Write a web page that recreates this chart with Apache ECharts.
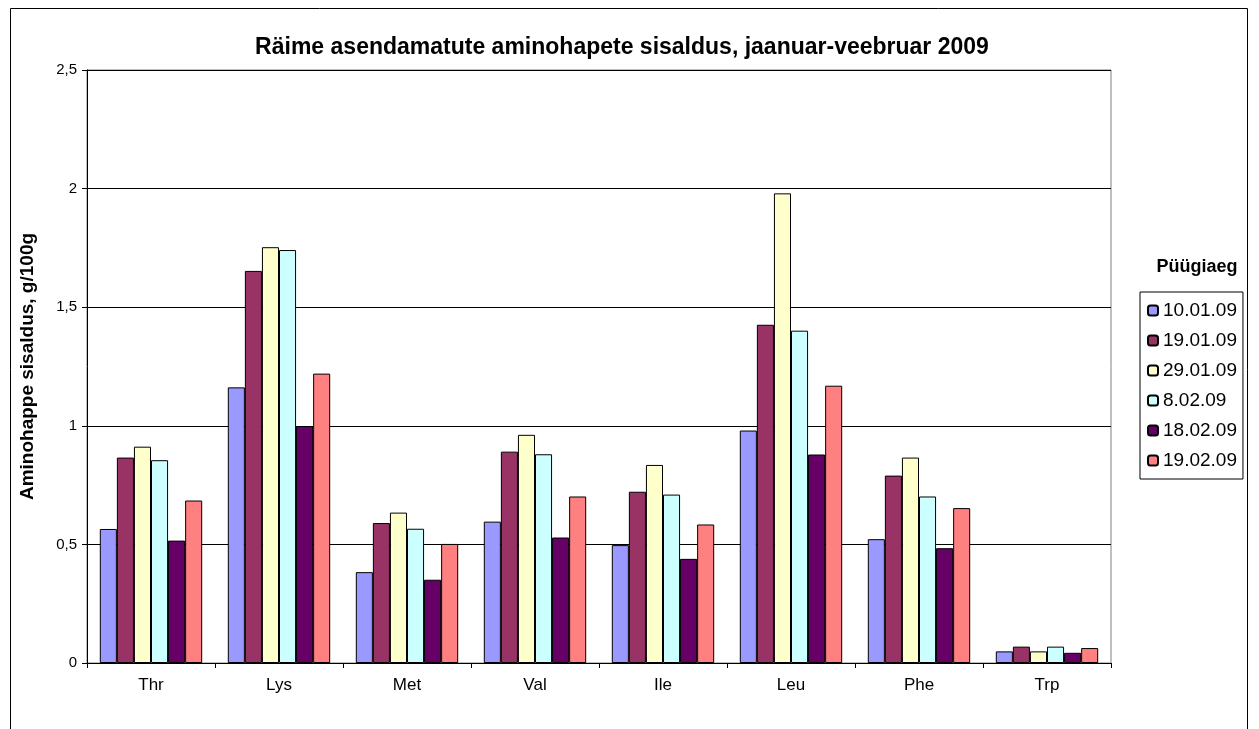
<!DOCTYPE html>
<html>
<head>
<meta charset="utf-8">
<script src="https://cdn.jsdelivr.net/npm/echarts@6/dist/echarts.min.js"></script>
<style>
  html, body { margin: 0; padding: 0; background: #fff; }
  #chart { width: 1259px; height: 729px; }
</style>
</head>
<body>
<div id="chart"></div>
<script>
var categories = ['Thr', 'Lys', 'Met', 'Val', 'Ile', 'Leu', 'Phe', 'Trp'];
var seriesNames = ['10.01.09', '19.01.09', '29.01.09', '8.02.09', '18.02.09', '19.02.09'];
var d100109 = [0.565, 1.162, 0.383, 0.596, 0.497, 0.980, 0.522, 0.049];
var d190109 = [0.866, 1.653, 0.590, 0.891, 0.722, 1.426, 0.790, 0.069];
var d290109 = [0.912, 1.753, 0.634, 0.962, 0.835, 1.980, 0.866, 0.049];
var d080209 = [0.855, 1.741, 0.566, 0.880, 0.710, 1.401, 0.702, 0.069];
var d180209 = [0.516, 0.999, 0.351, 0.529, 0.439, 0.879, 0.484, 0.043];
var d190209 = [0.685, 1.220, 0.502, 0.702, 0.584, 1.169, 0.653, 0.063];
var seriesData = [d100109, d190109, d290109, d080209, d180209, d190209];
var colors = ['#9999FF', '#993366', '#FFFFCC', '#CCFFFF', '#660066', '#FF8080'];

var chart = echarts.init(document.getElementById('chart'));

var option = {
	backgroundColor: '#fff',
	animation: false,
	title: [{
		text: 'Räime asendamatute aminohapete sisaldus, jaanuar-veebruar 2009',
		left: 617,
		top: 31,
		textAlign: 'center',
		textStyle: { fontFamily: 'Liberation Sans, Arial', fontSize: 23, fontWeight: 'bold', color: '#000' }
	}, {
		text: 'Püügiaeg',
		left: 1192,
		top: 253,
		textAlign: 'center',
		textStyle: { fontFamily: 'Liberation Sans, Arial', fontSize: 18, fontWeight: 'bold', color: '#000' }
	}],
	graphic: [{
		type: 'rect',
		shape: { x: 10.5, y: 8.5, width: 1237, height: 740 },
		style: { fill: 'none', stroke: '#000', lineWidth: 1 },
		silent: true
	}],
	legend: {
		orient: 'vertical',
		left: 1140,
		top: 292,
		padding: [9, 6, 9, 7],
		itemGap: 11,
		itemWidth: 10,
		itemHeight: 10,
		borderColor: '#000',
		borderWidth: 1,
		data: seriesNames,
		textStyle: { fontFamily: 'Liberation Sans, Arial', fontSize: 19, color: '#000' }
	},
	grid: {
		left: 87,
		right: 148,
		top: 70,
		bottom: 66,
		show: true,
		borderColor: '#808080',
		borderWidth: 1
	},
	xAxis: {
		type: 'category',
		data: categories,
		axisLine: { lineStyle: { color: '#000' } },
		axisTick: { show: true, length: 5, lineStyle: { color: '#000' } },
		axisLabel: { fontFamily: 'Liberation Sans, Arial', fontSize: 17, color: '#000', margin: 14 }
	},
	yAxis: {
		type: 'value',
		min: 0,
		max: 2.5,
		interval: 0.5,
		name: 'Aminohappe sisaldus, g/100g',
		nameLocation: 'middle',
		nameGap: 50,
		nameTextStyle: { fontFamily: 'Liberation Sans, Arial', fontSize: 19, fontWeight: 'bold', color: '#000' },
		axisLine: { show: true, lineStyle: { color: '#000' } },
		axisTick: { show: true, inside: false, length: 5, lineStyle: { color: '#000' } },
		axisLabel: {
			fontFamily: 'Liberation Sans, Arial', fontSize: 15, color: '#000', margin: 10,
			formatter: function (v) { return String(v).replace('.', ','); }
		},
		splitLine: { show: true, lineStyle: { color: '#000', width: 1 } }
	},
	series: seriesNames.map(function (name, i) {
		return {
			name: name,
			type: 'bar',
			data: seriesData[i],
			barGap: '0%',
			barCategoryGap: '20%',
			itemStyle: { color: colors[i], borderColor: '#000', borderWidth: 1 }
		};
	})
};

chart.setOption(option);
</script>
</body>
</html>
